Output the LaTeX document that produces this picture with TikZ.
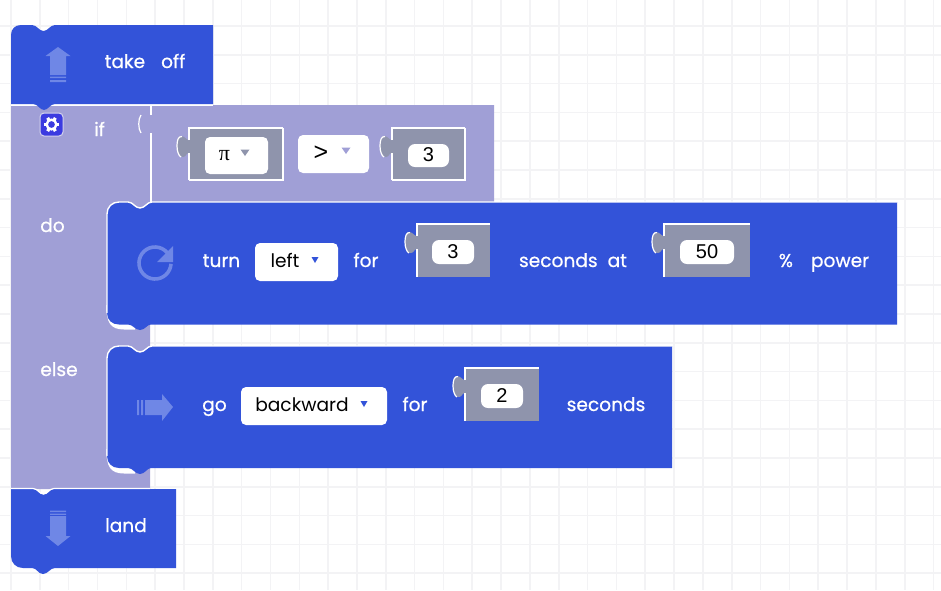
\documentclass[tikz,border=0pt]{standalone}
\usepackage{fontspec}
\setmainfont{Poppins}
\newfontfamily\lblfont{Poppins}[FakeBold=0.6]
\newfontfamily\numfont{Liberation Sans}
\newfontfamily\pifont{Liberation Serif}
\definecolor{blockblue}{HTML}{3353D9}
\definecolor{blockpurple}{HTML}{A09FD6}
\definecolor{valgrey}{HTML}{8F94AC}
\definecolor{iconblue}{HTML}{6F87E6}
\definecolor{gridgrey}{HTML}{F3F3F5}
\definecolor{gearblue}{HTML}{3B3BE0}
\tikzset{
 lbl/.style={text=white,font=\lblfont\fontsize{18.6}{22}\selectfont,inner sep=0pt,anchor=base},
 dark/.style={text=black,font=\fontsize{18.6}{22}\selectfont,inner sep=0pt,anchor=base},
 num/.style={text=black,font=\numfont\fontsize{20}{24}\selectfont,inner sep=0pt,anchor=base},
 whitebox/.style={fill=white,rounded corners=5pt},
 edge/.style={draw=white,line width=1.6pt},
}
\newcommand{\puzzle}[4]{% left top right bottom
 \fill[valgrey] (#1,#2) -- (#3,#2) -- (#3,#4) -- (#1,#4) -- cycle;
 \fill[valgrey] (#1,#2+12) .. controls (#1-3,#2+12) and (#1-4,#2+8) .. (#1-8,#2+8)
   .. controls (#1-11,#2+8) and (#1-12,#2+13) .. (#1-12,#2+18)
   .. controls (#1-12,#2+24) and (#1-10,#2+29) .. (#1-6,#2+29)
   .. controls (#1-3,#2+29) and (#1-3,#2+25) .. (#1,#2+25) -- cycle;
 \draw[white,line width=1.2pt] (#1-7,#2+8.5) .. controls (#1-11,#2+8) and (#1-12,#2+13) .. (#1-12,#2+18)
   .. controls (#1-12,#2+24) and (#1-10,#2+28) .. (#1-8,#2+29);
 \draw[white,line width=1.2pt] (#1,#4) -- (#1,#2+25) (#1,#2+12) -- (#1,#2) -- (#3,#2);
}
\begin{document}
\begin{tikzpicture}[x=1pt,y=-1pt]
\useasboundingbox (0,0) rectangle (941,590);
\fill[white] (0,0) rectangle (941,590);
% grid
\foreach \k in {0,...,32} \draw[gridgrey,line width=1.6pt] ({11+28.83*\k},0) -- ({11+28.83*\k},590);
\foreach \k in {0,...,19} \draw[gridgrey,line width=1.6pt] (0,{26+28.8*\k}) -- (941,{26+28.8*\k});

% if-else block
\fill[blockpurple] (11,105) -- (494,105) -- (494,202) -- (150,202) -- (150,489) -- (11,489) -- cycle;
\draw[edge] (11,105) -- (213,105);
\draw[edge] (151,106) -- (151,115) (151,133) -- (151,202);
\draw[white,line width=1.2pt] (141,115) .. controls (138,119) and (138,129) .. (141,133);

% white crescents round the lower left corners of the statement blocks
\fill[white] (106.3,305) .. controls (106.3,322) and (110,329.5) .. (124,329.5) -- (135,329.5) -- (135,316) -- (112,316) -- (107.5,305) -- cycle;
\fill[white] (106.3,449) .. controls (106.3,466) and (110,473.5) .. (124,473.5) -- (135,473.5) -- (135,460) -- (112,460) -- (107.5,449) -- cycle;

% take off
\fill[blockblue] (11,104) -- (11,35) .. controls (11,29) and (15,25) .. (21,25) -- (32,25)
 .. controls (37,25) and (39,31) .. (43.5,31) .. controls (48,31) and (50,25) .. (55,25)
 -- (213,25) -- (213,104) -- (55,104) .. controls (50,104) and (48,110) .. (44,110)
 .. controls (40,110) and (38,104) .. (33,104) -- cycle;
% land
\fill[blockblue] (11,489) -- (33,489) .. controls (38,489) and (39,494.5) .. (43.5,494.5)
 .. controls (48,494.5) and (49,489) .. (54,489) -- (176,489) -- (176,568) -- (55,568)
 .. controls (50,568) and (48,574) .. (43,574) .. controls (38,574) and (37,568) .. (32,568)
 -- (23,568) .. controls (16,568) and (11,563) .. (11,556) -- cycle;
\draw[white,line width=1.2pt] (11,488.5) -- (33,488.5) .. controls (38,488.5) and (39,494) .. (43.5,494)
 .. controls (48,494) and (49,488.5) .. (54,488.5) -- (150,488.5);

% do block
\fill[blockblue] (107,214) .. controls (107,207) and (112,202) .. (119,202) -- (128,202)
 .. controls (133,202) and (135,208) .. (140,208) .. controls (145,208) and (147,202) .. (152,202)
 -- (897,202) -- (897,324.5) -- (151,324.5) .. controls (147,324.5) and (145,330) .. (140,330)
 .. controls (135,330) and (133,324.5) .. (128,324.5) -- (119,324.5)
 .. controls (112,324.5) and (107,320) .. (107,313) -- cycle;
\draw[white,line width=1.4pt] (107,313) -- (107,214) .. controls (107,207) and (112,202) .. (119,202) -- (128,202)
 .. controls (133,202) and (135,208) .. (140,208) .. controls (145,208) and (147,202) .. (152,202) -- (897,202);
% else block
\fill[blockblue] (107,358) .. controls (107,351) and (112,346) .. (119,346) -- (128,346)
 .. controls (133,346) and (135,352) .. (140,352) .. controls (145,352) and (147,346) .. (152,346)
 -- (672,346) -- (672,468) -- (151,468) .. controls (147,468) and (145,474) .. (140,474)
 .. controls (135,474) and (133,468) .. (128,468) -- (119,468)
 .. controls (112,468) and (107,463) .. (107,456) -- cycle;
\draw[white,line width=1.4pt] (107,456) -- (107,358) .. controls (107,351) and (112,346) .. (119,346) -- (128,346)
 .. controls (133,346) and (135,352) .. (140,352) .. controls (145,352) and (147,346) .. (152,346) -- (672,346);

% take-off icon
\fill[iconblue] (58,47) -- (70.5,56) -- (66,56) -- (66,75) -- (50,75) -- (50,56) -- (45.5,56) -- cycle;
\fill[iconblue] (50,76.5) rectangle (66,78) (50,80) rectangle (66,82);
% land icon
\fill[iconblue] (58,546) -- (70.5,536) -- (66,536) -- (66,516) -- (50,516) -- (50,536) -- (45.5,536) -- cycle;
\fill[iconblue] (50,510.5) rectangle (66,512) (50,513.5) rectangle (66,514.8);
% turn icon
\draw[iconblue,line width=3.6pt] (155,263) ++(3:16) arc[start angle=3,end angle=320,radius=16];
\fill[iconblue] (173,246) -- (173,262) -- (157,262) -- cycle;
% right-arrow icon
\fill[iconblue] (173,407) -- (162,394) -- (162,400) -- (145,400) -- (145,415) -- (162,415) -- (162,421) -- cycle;
\fill[iconblue] (137,400) rectangle (139,415) (141,400) rectangle (143,415);

% gear icon
\fill[gearblue,draw=blockpurple!45!white,line width=1pt,rounded corners=4pt] (40,113) rectangle (63,136);
\draw[white,line width=2.4pt] (51.5,124.5) circle[radius=4.8];
\foreach \a in {30,90,...,330}
  \fill[white,rotate around={\a:(51.5,124.5)}] (49.9,116.8) rectangle (53.1,120);

% condition blocks
\puzzle{189}{128}{283}{180}
\draw[white,line width=1.2pt] (283,128) -- (283,180) -- (189,180);
\puzzle{392}{128}{465}{180}
\draw[white,line width=1.2pt] (465,128) -- (465,180) -- (392,180);
\fill[whitebox] (205,137) rectangle (268,174);
\fill[whitebox] (298,135) rectangle (369,173);
\fill[whitebox,rounded corners=7pt] (408,144) rectangle (449,167);
\fill[valgrey] (240.5,149.5) -- (249.5,149.5) -- (245,156) -- cycle;
\fill[blockpurple] (341.5,147.5) -- (350.5,147.5) -- (346,154) -- cycle;
\node[num,font=\pifont\fontsize{22}{24}\selectfont] (pival) at (224.5,160) {π};
\node[num,font=\numfont\fontsize{25}{28}\selectfont] (gt) at (321,160) {>};
\node[num] (v3a) at (428.5,161) {3};

% turn values
\puzzle{417}{224}{490}{277}
\puzzle{664}{224}{750}{277}
\fill[whitebox,rounded corners=7pt] (432,240) rectangle (474,264);
\fill[whitebox,rounded corners=7pt] (680,240) rectangle (734,264);
\node[num] (v3b) at (453,258) {3};
\node[num] (v50) at (707,258) {50};
% go value
\puzzle{465}{368}{539}{421}
\fill[whitebox,rounded corners=7pt] (481,384) rectangle (523,408);
\node[num] (v2) at (502,402) {2};

% dropdowns
\fill[whitebox] (255,243) rectangle (338,281);
\fill[blockblue] (311.5,257) -- (318.5,257) -- (315,263) -- cycle;
\node[dark] (leftdd) at (285,267) {left};
\fill[whitebox] (241,387) rectangle (387,425);
\fill[blockblue] (360.5,401) -- (367.5,401) -- (364,407) -- cycle;
\node[dark] (backdd) at (302,411) {backward};

% labels
\node[lbl] (takeoff) at (145,68) {take\hspace{16pt}off};
\node[lbl] (land) at (126,532) {land};
\node[lbl] (iflbl) at (99.5,136) {if};
\node[lbl] (dolbl) at (52.5,232) {do};
\node[lbl] (elselbl) at (59,376) {else};
\node[lbl] (turn) at (221.5,267) {turn};
\node[lbl] (for1) at (366,267) {for};
\node[lbl] (secat) at (573,267) {seconds\hspace{10pt}at};
\node[lbl] (power) at (824,267) {\%\hspace{18pt}power};
\node[lbl] (go) at (214.5,411) {go};
\node[lbl] (for2) at (415,411) {for};
\node[lbl] (sec2) at (606,411) {seconds};
\end{tikzpicture}
\end{document}
